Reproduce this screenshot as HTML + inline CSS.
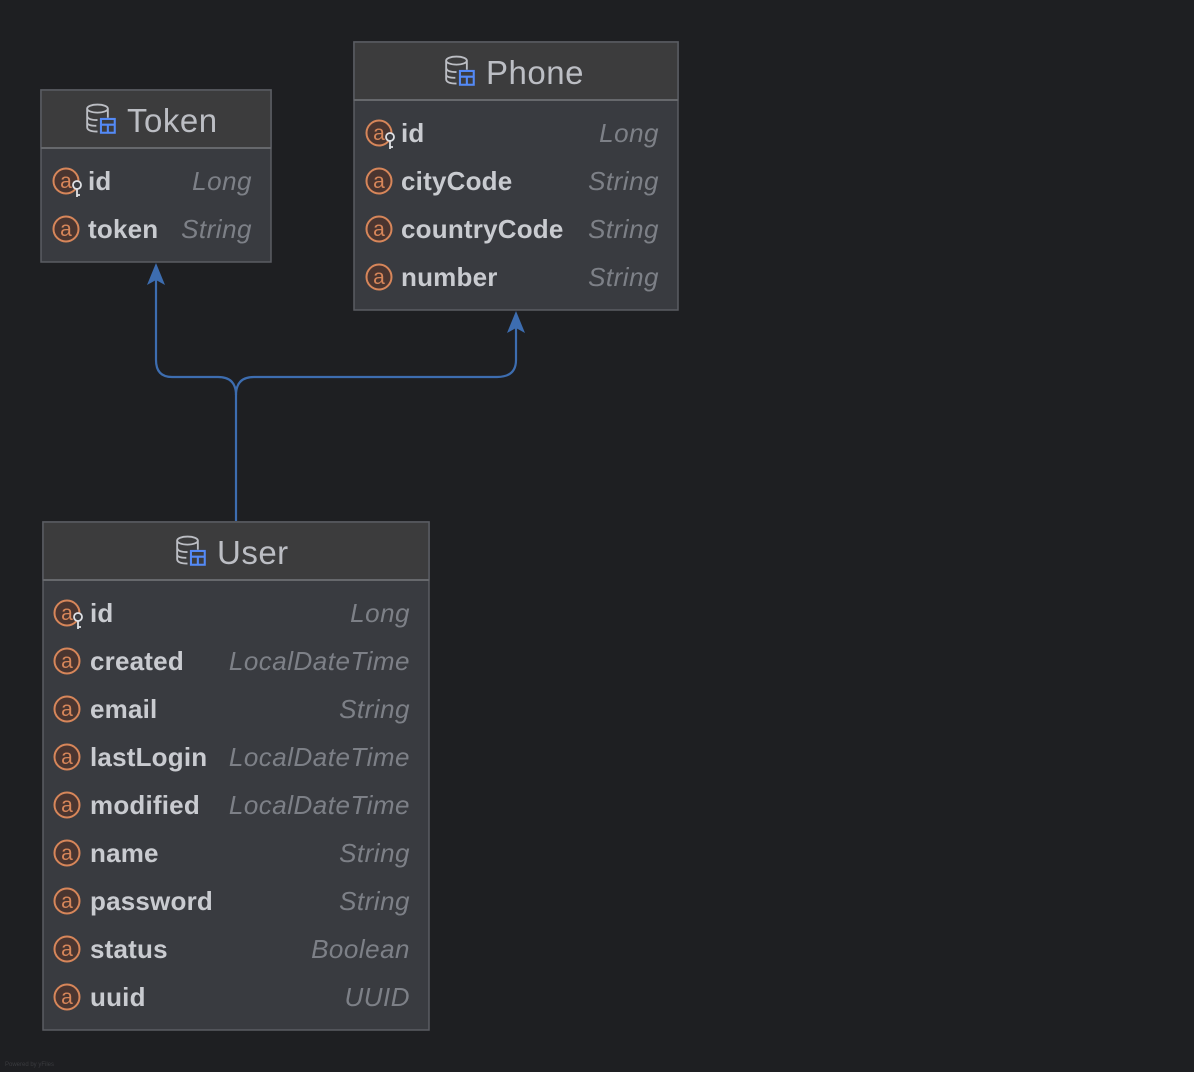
<!DOCTYPE html>
<html><head><meta charset="utf-8"><style>
html,body{margin:0;padding:0;background:#1e1f22;}
svg{display:block}
.t{font-family:"Liberation Sans",sans-serif;font-size:33px;fill:#bcbec4;letter-spacing:0.5px}
.f{font-family:"Liberation Sans",sans-serif;font-size:26px;font-weight:bold;fill:#c9cbd0;letter-spacing:0.2px}
.ty{font-family:"Liberation Sans",sans-serif;font-size:26px;font-style:italic;fill:#7d8087;letter-spacing:0.5px}
.a{font-family:"Liberation Sans",sans-serif;font-size:21px;fill:#d7865a}
</style></head><body>
<svg width="1194" height="1072" viewBox="0 0 1194 1072" xmlns="http://www.w3.org/2000/svg">
<defs>
<g id="db" transform="scale(1.15)">
<ellipse cx="10" cy="4" rx="9" ry="3.5" fill="none" stroke="#bcbec4" stroke-width="1.6"/>
<path d="M1 4 V20 Q1 24 10 24 M19 4 V12 M1 10 Q1 14 10 14 M1 16 Q1 19 9 19" fill="none" stroke="#bcbec4" stroke-width="1.6"/>
<rect x="13" y="13" width="12" height="12" fill="none" stroke="#548af7" stroke-width="1.8"/>
<path d="M13 18 H25 M19 18 V25" stroke="#548af7" stroke-width="1.8"/>
</g>
<g id="at">
<circle cx="0" cy="0" r="12.5" fill="#4a3530" stroke="#d7865a" stroke-width="2"/>
<text x="0" y="7" text-anchor="middle" class="a">a</text>
</g>
<g id="key">
<circle cx="0" cy="0" r="4" fill="#393b40" stroke="#dfe1e5" stroke-width="1.8"/>
<path d="M0 4 V12 M0 10 H3" stroke="#dfe1e5" stroke-width="1.8"/>
</g>
</defs>

<g fill="none" stroke="#3d6db0" stroke-width="2.2">
<path d="M236 521 V395 Q236 377 218 377 H172 Q156 377 156 360 V275"/>
<path d="M236 395 Q236 377 254 377 H497 Q516 377 516 360 V322"/>
</g>
<path d="M156 263 L147 285 L156 280 L165 285 Z" fill="#3d6db0"/>
<path d="M516 311 L507 333 L516 328 L525 333 Z" fill="#3d6db0"/>

<!-- Token -->
<rect x="41" y="90" width="230" height="172" fill="#393b40" stroke="#5a5d63" stroke-width="1.5"/>
<rect x="41" y="90" width="230" height="58" fill="#3c3c3d" stroke="#5a5d63" stroke-width="1.5"/>
<line x1="41" y1="148" x2="271" y2="148" stroke="#66686c" stroke-width="2"/>
<use href="#db" x="86" y="104"/>
<text x="127" y="132" class="t">Token</text>
<use href="#at" x="66" y="181"/><use href="#key" x="77" y="185"/>
<text x="88" y="190" class="f">id</text><text x="252" y="190" text-anchor="end" class="ty">Long</text>
<use href="#at" x="66" y="229"/>
<text x="88" y="238" class="f">token</text><text x="252" y="238" text-anchor="end" class="ty">String</text>

<!-- Phone -->
<rect x="354" y="42" width="324" height="268" fill="#393b40" stroke="#5a5d63" stroke-width="1.5"/>
<rect x="354" y="42" width="324" height="58" fill="#3c3c3d" stroke="#5a5d63" stroke-width="1.5"/>
<line x1="354" y1="100" x2="678" y2="100" stroke="#66686c" stroke-width="2"/>
<use href="#db" x="445" y="56"/>
<text x="486" y="84" class="t">Phone</text>
<use href="#at" x="379" y="133"/><use href="#key" x="390" y="137"/>
<text x="401" y="142" class="f">id</text><text x="659" y="142" text-anchor="end" class="ty">Long</text>
<use href="#at" x="379" y="181"/>
<text x="401" y="190" class="f">cityCode</text><text x="659" y="190" text-anchor="end" class="ty">String</text>
<use href="#at" x="379" y="229"/>
<text x="401" y="238" class="f">countryCode</text><text x="659" y="238" text-anchor="end" class="ty">String</text>
<use href="#at" x="379" y="277"/>
<text x="401" y="286" class="f">number</text><text x="659" y="286" text-anchor="end" class="ty">String</text>

<!-- User -->
<rect x="43" y="522" width="386" height="508" fill="#393b40" stroke="#5a5d63" stroke-width="1.5"/>
<rect x="43" y="522" width="386" height="58" fill="#3c3c3d" stroke="#5a5d63" stroke-width="1.5"/>
<line x1="43" y1="580" x2="429" y2="580" stroke="#66686c" stroke-width="2"/>
<use href="#db" x="176" y="536"/>
<text x="217" y="564" class="t">User</text>
<use href="#at" x="67" y="613"/><use href="#key" x="78" y="617"/>
<text x="90" y="622" class="f">id</text><text x="410" y="622" text-anchor="end" class="ty">Long</text>
<use href="#at" x="67" y="661"/>
<text x="90" y="670" class="f">created</text><text x="410" y="670" text-anchor="end" class="ty">LocalDateTime</text>
<use href="#at" x="67" y="709"/>
<text x="90" y="718" class="f">email</text><text x="410" y="718" text-anchor="end" class="ty">String</text>
<use href="#at" x="67" y="757"/>
<text x="90" y="766" class="f">lastLogin</text><text x="410" y="766" text-anchor="end" class="ty">LocalDateTime</text>
<use href="#at" x="67" y="805"/>
<text x="90" y="814" class="f">modified</text><text x="410" y="814" text-anchor="end" class="ty">LocalDateTime</text>
<use href="#at" x="67" y="853"/>
<text x="90" y="862" class="f">name</text><text x="410" y="862" text-anchor="end" class="ty">String</text>
<use href="#at" x="67" y="901"/>
<text x="90" y="910" class="f">password</text><text x="410" y="910" text-anchor="end" class="ty">String</text>
<use href="#at" x="67" y="949"/>
<text x="90" y="958" class="f">status</text><text x="410" y="958" text-anchor="end" class="ty">Boolean</text>
<use href="#at" x="67" y="997"/>
<text x="90" y="1006" class="f">uuid</text><text x="410" y="1006" text-anchor="end" class="ty">UUID</text>

<text x="5" y="1066" font-family="Liberation Sans, sans-serif" font-size="6" fill="#3a3b3f">Powered by yFiles</text>
</svg>
</body></html>
